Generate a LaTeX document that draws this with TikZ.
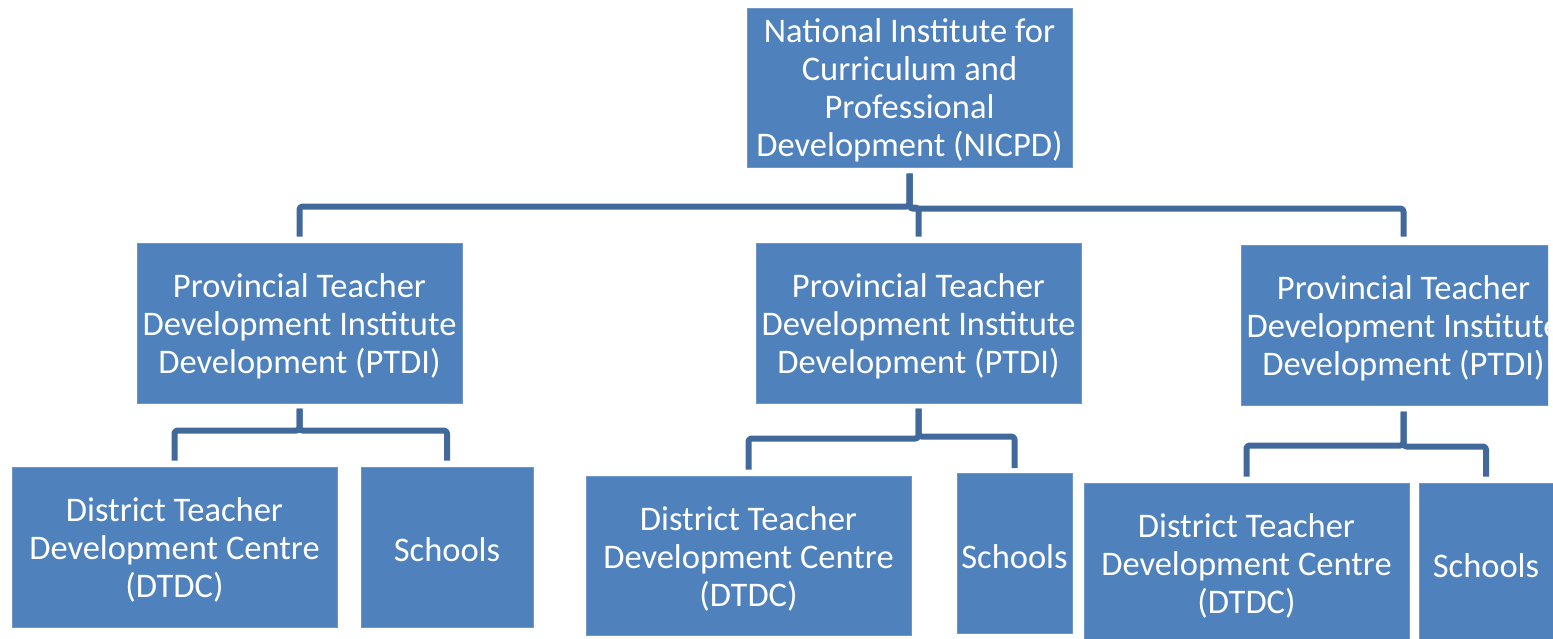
\documentclass[tikz,border=0pt]{standalone}
\usepackage{fontspec}
\setmainfont{Carlito}
\usetikzlibrary{calc}
\definecolor{boxblue}{HTML}{4F81BD}
\definecolor{boxedge}{HTML}{6E96C9}
\definecolor{linkblue}{HTML}{41699C}
\tikzset{
  unit/.style={rectangle, fill=boxblue, draw=boxedge, line width=1pt, inner sep=0pt},
  wide/.style={unit, minimum width=325pt, minimum height=160pt},
  txt/.style={text=white, align=center, inner sep=0pt, yshift=-3pt,
    font=\fontsize{34.5}{38}\selectfont},
  conn/.style={draw=linkblue, line width=6pt, line join=round, rounded corners=3pt}
}
\begin{document}
\begin{tikzpicture}[x=1pt, y=-1pt]
\useasboundingbox (0,0) rectangle (1553,638);

% national level
\node[wide, minimum height=159pt] (nat) at (909.5,87.5) {};
\node[txt] (nat-t) at (nat.center) {National Institute for\\Curriculum and\\Professional\\Development (NICPD)};

% provincial level
\node[wide] (pl) at (299.5,323) {};
\node[txt] (pl-t) at (pl.center) {Provincial Teacher\\Development Institute\\Development (PTDI)};
\node[wide] (pm) at (918.5,323) {};
\node[txt] (pm-t) at (pm.center) {Provincial Teacher\\Development Institute\\Development (PTDI)};
\begin{scope}
  \clip (0,0) rectangle (1548,638);
  \node[wide] (pr) at (1403.5,325) {};
  \node[txt] (pr-t) at (pr.center) {Provincial Teacher\\Development Institute\\Development (PTDI)};
\end{scope}

% district level and schools
\node[wide] (dl) at (174.5,547) {};
\node[txt] (dl-t) at (dl.center) {District Teacher\\Development Centre\\(DTDC)};
\node[unit, minimum width=172pt, minimum height=160pt] (sl) at (447,547) {};
\node[txt] (sl-t) at (sl.center) {Schools};
\node[wide, minimum height=159pt] (dm) at (748.5,555.5) {};
\node[txt] (dm-t) at (dm.center) {District Teacher\\Development Centre\\(DTDC)};
\node[unit, minimum width=115pt, minimum height=160pt] (sm) at (1014.5,553.5) {};
\node[txt] (sm-t) at (sm.center) {Schools};
\node[wide] (dr) at (1246.5,563) {};
\node[txt] (dr-t) at (dr.center) {District Teacher\\Development Centre\\(DTDC)};
\node[unit, minimum width=134pt, minimum height=160pt] (sr) at (1486,563) {};
\node[txt] (sr-t) at (sr.center) {Schools};

% elbow connectors
\draw[conn] ([yshift=-6pt]nat.south) -- ++(0,33) -| ([yshift=6pt]pl.north);
\draw[conn] ([yshift=-6pt]nat.south) -- ++(0,34) -| ([yshift=6pt]pm.north);
\draw[conn] ([yshift=-6pt]nat.south) -- ++(0,35) -| ([yshift=8pt]pr.north);

\draw[conn] ([yshift=-5pt]pl.south) -- ++(0,22) -| ([yshift=6pt]dl.north);
\draw[conn] ([yshift=-5pt]pl.south) -- ++(0,22) -| ([yshift=6pt]sl.north);

\draw[conn] ([yshift=-5pt]pm.south) -- ++(0,30) -| ([yshift=6pt]dm.north);
\draw[conn] ([yshift=-5pt]pm.south) -- ++(0,28) -| ([yshift=5pt]sm.north);

\draw[conn] ([yshift=-6pt]pr.south) -- ++(0,34) -| ([yshift=6pt]dr.north);
\draw[conn] ([yshift=-6pt]pr.south) -- ++(0,35) -| ([yshift=6pt]sr.north);
\end{tikzpicture}
\end{document}
